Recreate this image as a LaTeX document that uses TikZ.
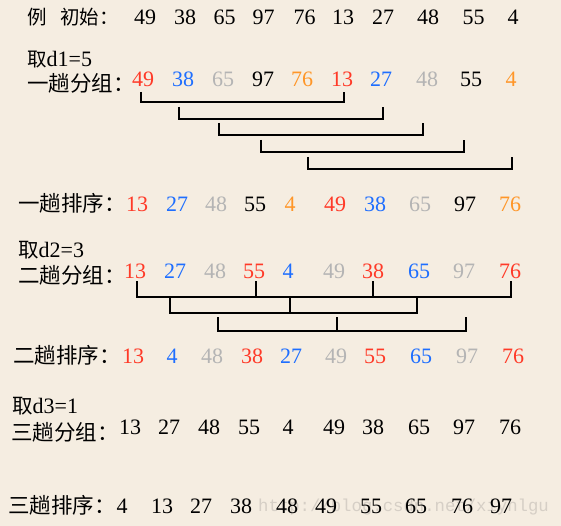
\documentclass[tikz,border=0pt]{standalone}
\usepackage{fontspec}
\setmainfont{Liberation Serif}
\newfontfamily\cjk{Noto Sans CJK SC}
\newfontfamily\wmfont{Liberation Mono}
\newcommand\zhf{\cjk\fontsize{21.5}{22}\selectfont}
\newcommand\zhs{\cjk\fontsize{19.5}{20}\selectfont}
\newcommand\zhm{\cjk\fontsize{20.5}{21}\selectfont}
\newcommand\zcolon{\makebox[0.5em][l]{：}}
\definecolor{bg}{RGB}{245,237,225}
\definecolor{nred}{RGB}{255,58,40}
\definecolor{nblue}{RGB}{30,110,255}
\definecolor{ngray}{RGB}{180,180,180}
\definecolor{norange}{RGB}{255,150,40}
\definecolor{wm}{RGB}{214,207,198}
\begin{document}
\begin{tikzpicture}[x=1pt,y=-1pt,
  num/.style={anchor=base,inner sep=0pt,font=\fontsize{22}{22}\selectfont},
  lab/.style={anchor=base west,inner sep=0pt,font=\fontsize{22}{22}\selectfont},
  br/.style={draw=black,line width=1.2pt}]
\fill[bg] (0,0) rectangle (561,526);
\useasboundingbox (0,0) rectangle (561,526);

% watermark
\node[anchor=base west,inner sep=0pt,text=wm,font=\wmfont\fontsize{17.3}{18}\selectfont] (wmk) at (258,511) {http://blog.csdn.net/xiyhlgu};

% labels
\node[lab] (l0a) at (27,25) {\zhs 例};
\node[lab] (l0b) at (60,25) {\zhs 初始\zcolon};
\node[lab] (ld1) at (27,67) {{\zhs 取}d1=5};
\node[lab] (la) at (27,92) {\zhf 一趟分组\zcolon};
\node[lab] (lb) at (18,212) {\zhf 一趟排序\zcolon};
\node[lab] (ld2) at (18,257) {{\zhm 取}d2=3};
\node[lab] (lc) at (18,283) {\zhf 二趟分组\zcolon};
\node[lab] (ld) at (13,363) {\zhf 二趟排序\zcolon};
\node[lab] (ld3) at (12,413) {{\zhm 取}d3=1};
\node[lab] (le) at (11,440) {\zhf 三趟分组\zcolon};
\node[lab] (lf) at (8,513) {\zhf 三趟排序\zcolon};

% numbers
\foreach \x/\v/\c [count=\i] in {145/49/black,185/38/black,224.5/65/black,263.5/97/black,304.5/76/black,343/13/black,383/27/black,428/48/black,473.5/55/black,513/4/black}
  \node[num,text=\c] (r\i) at (\x,25) {\v};
\foreach \x/\v/\c [count=\i] in {143/49/nred,183/38/nblue,223/65/ngray,263/97/black,302/76/norange,342/13/nred,381/27/nblue,427/48/ngray,471/55/black,511/4/norange}
  \node[num,text=\c] (a\i) at (\x,87) {\v};
\foreach \x/\v/\c [count=\i] in {137/13/nred,177/27/nblue,216/48/ngray,255/55/black,290/4/norange,335/49/nred,375/38/nblue,420/65/ngray,465/97/black,510/76/norange}
  \node[num,text=\c] (b\i) at (\x,212) {\v};
\foreach \x/\v/\c [count=\i] in {135/13/nred,175/27/nblue,215/48/ngray,254/55/nred,288/4/nblue,334/49/ngray,373/38/nred,419/65/nblue,464/97/ngray,510/76/nred}
  \node[num,text=\c] (c\i) at (\x,278) {\v};
\foreach \x/\v/\c [count=\i] in {133/13/nred,172/4/nblue,212/48/ngray,252/38/nred,291/27/nblue,336/49/ngray,375/55/nred,421/65/nblue,467/97/ngray,513/76/nred}
  \node[num,text=\c] (d\i) at (\x,363) {\v};
\foreach \x/\v [count=\i] in {130/13,169/27,209/48,249/55,288/4,334/49,373/38,419/65,464/97,510/76}
  \node[num] (e\i) at (\x,434) {\v};
\foreach \x/\v [count=\i] in {122/4,162/13,201/27,241/38,287/48,326/49,371/55,416/65,462/76,501/97}
  \node[num] (f\i) at (\x,513) {\v};

% d1 = 5 groups
\draw[br] ([xshift=-2pt,yshift=-5pt]a1.base) |- ([xshift=2pt,yshift=-15pt]a6.base) -- ([xshift=2pt,yshift=-5pt]a6.base);
\draw[br] ([xshift=-4pt,yshift=-20pt]a2.base) |- ([xshift=2pt,yshift=-32pt]a7.base) -- ([xshift=2pt,yshift=-20pt]a7.base);
\draw[br] ([xshift=-4pt,yshift=-36pt]a3.base) |- ([xshift=-4pt,yshift=-48pt]a8.base) -- ([xshift=-4pt,yshift=-36pt]a8.base);
\draw[br] ([xshift=-2pt,yshift=-53pt]a4.base) |- ([xshift=-7pt,yshift=-65pt]a9.base) -- ([xshift=-7pt,yshift=-53pt]a9.base);
\draw[br] ([xshift=6pt,yshift=-70pt]a5.base) |- ([xshift=1pt,yshift=-82pt]a10.base) -- ([xshift=1pt,yshift=-70pt]a10.base);

% d2 = 3 groups
\draw[br] ([xshift=2pt,yshift=-3pt]c1.base) |- ([xshift=1pt,yshift=-19pt]c10.base) -- ([xshift=1pt,yshift=-3pt]c10.base);
\draw[br] ([xshift=2pt,yshift=-3pt]c4.base) -- ([xshift=2pt,yshift=-19pt]c4.base);
\draw[br] ([yshift=-3pt]c7.base) -- ([yshift=-19pt]c7.base);
\draw[br] ([xshift=-5pt,yshift=-20pt]c2.base) |- ([xshift=-2pt,yshift=-35pt]c8.base) -- ([xshift=-2pt,yshift=-20pt]c8.base);
\draw[br] ([xshift=2pt,yshift=-20pt]c5.base) -- ([xshift=2pt,yshift=-35pt]c5.base);
\draw[br] ([xshift=3pt,yshift=-39pt]c3.base) |- ([xshift=2pt,yshift=-53pt]c9.base) -- ([xshift=2pt,yshift=-39pt]c9.base);
\draw[br] ([xshift=3pt,yshift=-39pt]c6.base) -- ([xshift=3pt,yshift=-53pt]c6.base);
\end{tikzpicture}
\end{document}
